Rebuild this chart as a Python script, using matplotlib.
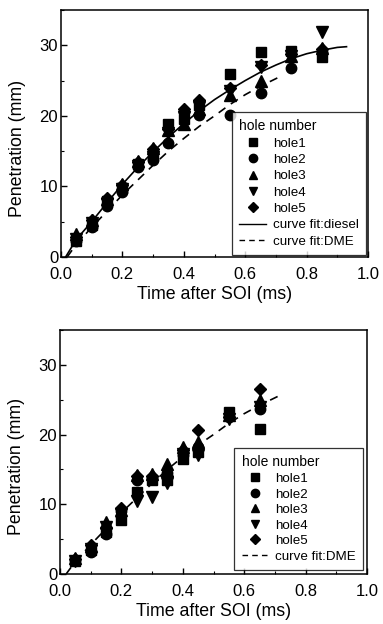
import numpy as np
import matplotlib
matplotlib.use("Agg")
import matplotlib.pyplot as plt
from matplotlib.lines import Line2D

plt.rcParams['font.family'] = ['Liberation Sans', 'DejaVu Sans']

# ---- data, top panel (diesel + DME fits) ----
t_top = [0.05, 0.10, 0.15, 0.20, 0.25, 0.30, 0.35, 0.40, 0.45, 0.55, 0.65, 0.75, 0.85]
top_hole1 = [2.3, 4.5, 8.0, 9.8, 13.2, 14.5, 18.8, 19.5, 21.5, 25.9, 29.0, 29.2, 28.3]
top_hole2 = [2.2, 4.3, 7.2, 9.2, 12.8, 13.8, 16.1, 20.5, 20.1, 20.1, 23.3, 26.8, 29.0]
top_hole3 = [3.2, 5.3, 8.2, 10.4, 13.6, 15.5, 18.0, 18.9, 21.0, 22.9, 25.0, 28.5, 29.6]
top_hole4 = [2.6, 4.8, 7.5, 9.6, 12.9, 14.2, 17.6, 19.8, 21.3, 23.5, 26.9, 28.5, 31.9]
top_hole5 = [2.8, 5.2, 8.4, 10.2, 13.5, 15.3, 18.2, 21.0, 22.2, 24.0, 27.2, 28.8, 29.5]

# curve fits
fit_diesel_t = [0.015, 0.05, 0.10, 0.15, 0.20, 0.25, 0.30, 0.35, 0.40, 0.45, 0.50, 0.55,
                0.60, 0.65, 0.70, 0.75, 0.80, 0.85, 0.90, 0.93]
fit_diesel_y = [0.0, 2.5, 5.0, 7.7, 10.3, 12.7, 14.9, 17.0, 18.9, 20.7, 22.3, 23.7,
                25.0, 26.2, 27.2, 28.1, 28.8, 29.3, 29.7, 29.8]
fit_dme_t = [0.02, 0.05, 0.10, 0.15, 0.20, 0.25, 0.30, 0.35, 0.40, 0.45, 0.50, 0.55,
             0.60, 0.65, 0.72]
fit_dme_y = [0.0, 1.8, 4.2, 6.5, 8.8, 10.9, 13.0, 15.0, 16.8, 18.5, 20.0, 21.6,
             23.0, 24.2, 25.7]

# ---- data, bottom panel (DME) ----
t_bot = [0.05, 0.10, 0.15, 0.20, 0.25, 0.30, 0.35, 0.40, 0.45, 0.55, 0.65]
bot_hole1 = [1.8, 3.4, 6.0, 7.8, 11.8, 13.5, 13.5, 16.5, 17.5, 23.2, 20.8]
bot_hole2 = [2.0, 3.2, 5.8, 9.0, 13.5, 13.8, 14.5, 17.0, 18.2, 22.5, 23.6]
bot_hole3 = [2.3, 4.0, 7.4, 9.2, 14.2, 14.3, 15.8, 18.2, 19.0, 22.8, 25.0]
bot_hole4 = [1.9, 3.6, 6.8, 8.6, 10.4, 11.0, 13.0, 17.2, 17.0, 22.3, 24.0]
bot_hole5 = [2.2, 4.2, 6.6, 9.5, 14.0, 14.0, 14.0, 17.8, 20.6, 22.5, 26.5]

hole_labels = ['hole1', 'hole2', 'hole3', 'hole4', 'hole5']
markers = ['s', 'o', '^', 'v', 'D']
msizes = [7, 7.5, 8, 8, 6.5]

fig = plt.figure(figsize=(3.83, 6.24), dpi=100)
ax1 = fig.add_axes([61/383, 1-257/624, 307/383, 247/624])
ax2 = fig.add_axes([60/383, 1-574/624, 307/383, 244/624])


def style_axis(ax):
    ax.set_xlim(0, 1.0)
    ax.set_ylim(0, 35)
    ax.set_xticks([0.0, 0.2, 0.4, 0.6, 0.8, 1.0])
    ax.set_xticks(np.arange(0.1, 1.0, 0.2), minor=True)
    ax.set_yticks([0, 10, 20, 30])
    ax.set_yticks([5, 15, 25, 35], minor=True)
    ax.set_xticklabels(['0.0', '0.2', '0.4', '0.6', '0.8', '1.0'])
    ax.tick_params(which='both', direction='in', top=False, right=False, labelsize=12)
    ax.tick_params(which='major', length=4, width=1)
    ax.tick_params(which='minor', length=2, width=0.8)
    ax.tick_params(axis='x', pad=7)
    ax.tick_params(axis='y', pad=2)
    for sp in ax.spines.values():
        sp.set_linewidth(1.1)
    ax.set_xlabel('Time after SOI (ms)', fontsize=12.8, labelpad=3)
    ax.set_ylabel('Penetration (mm)', fontsize=12.8)
    ax.yaxis.set_label_coords(-0.115, 0.44)


leg_kw = dict(title='hole number', loc='lower right', fontsize=9.6, title_fontsize=10,
              frameon=True, fancybox=False, edgecolor='black',
              borderpad=0.55, handlelength=2.0, handletextpad=0.5,
              alignment='left')

# top panel
top_series = [top_hole1, top_hole2, top_hole3, top_hole4, top_hole5]
for ys, m, ms in zip(top_series, markers, msizes):
    ax1.plot(t_top, ys, linestyle='none', marker=m, markersize=ms, color='black')
ax1.plot(fit_diesel_t, fit_diesel_y, '-', color='black', lw=1.2)
ax1.plot(fit_dme_t, fit_dme_y, '--', color='black', lw=1.2, dashes=(5, 4))
style_axis(ax1)

handles = [Line2D([], [], linestyle='none', marker=m, markersize=ms * 0.8, color='black')
           for m, ms in zip(markers, msizes)]
h_diesel = Line2D([], [], linestyle='-', color='black', lw=1.0)
h_dme = Line2D([], [], linestyle='--', color='black', lw=1.0, dashes=(4, 3))
leg1 = ax1.legend(handles + [h_diesel, h_dme], hole_labels + ['curve fit:diesel', 'curve fit:DME'],
                  borderaxespad=0.15, labelspacing=0.3, **leg_kw)
leg1.get_frame().set_linewidth(0.9)

# bottom panel
bot_series = [bot_hole1, bot_hole2, bot_hole3, bot_hole4, bot_hole5]
for ys, m, ms in zip(bot_series, markers, msizes):
    ax2.plot(t_bot, ys, linestyle='none', marker=m, markersize=ms, color='black')
ax2.plot(fit_dme_t, fit_dme_y, '--', color='black', lw=1.2, dashes=(5, 4))
style_axis(ax2)

leg2 = ax2.legend(handles + [h_dme], hole_labels + ['curve fit:DME'],
                  borderaxespad=0.3, labelspacing=0.24, **leg_kw)
leg2.get_frame().set_linewidth(0.9)

fig.savefig('out.png', dpi=100)
